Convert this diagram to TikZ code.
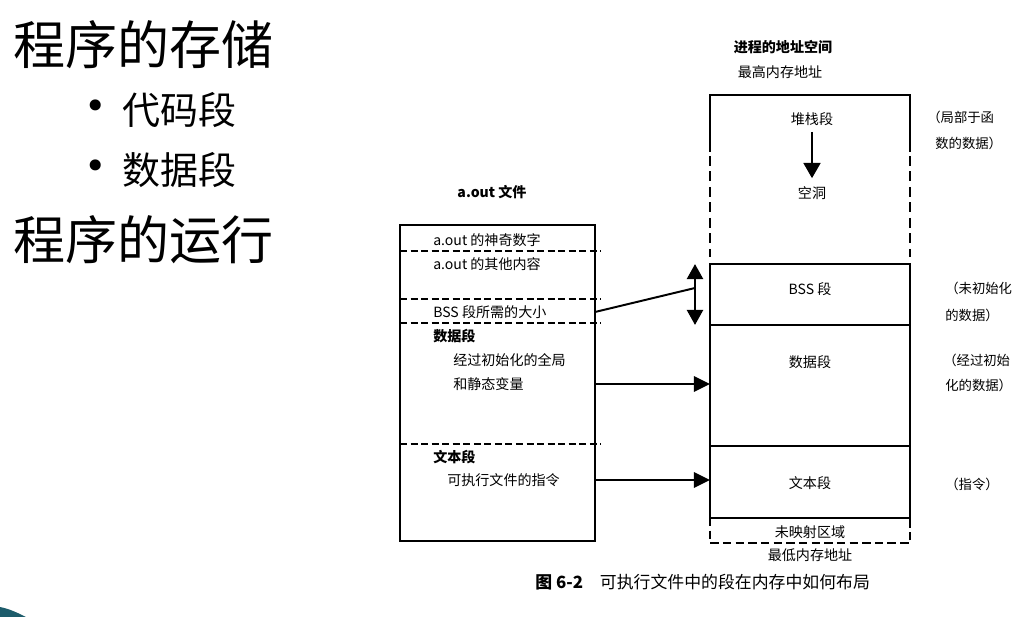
\documentclass[tikz,border=0pt]{standalone}
\usepackage{fontspec}
\setmainfont{Noto Sans CJK SC}
\newfontfamily\bulletfont{DejaVu Sans}
\usepackage{tikz}
\usetikzlibrary{
arrows.meta,
positioning,
calc
}
\definecolor{SlideTeal}{HTML}{1D5C6B}
\tikzset{
slidehead/.style={anchor=west, inner sep=0, font=\fontsize{37pt}{40pt}\selectfont},
slideitem/.style={anchor=west, inner sep=0, font=\fontsize{27pt}{30pt}\selectfont},
slidebullet/.style={inner sep=0, font=\bulletfont\fontsize{27pt}{30pt}\selectfont},
figtext/.style={anchor=west, inner sep=0, font=\fontsize{10pt}{12pt}\selectfont},
figbold/.style={anchor=west, inner sep=0, font=\fontsize{10pt}{12pt}\selectfont\bfseries},
figcentre/.style={inner sep=0, font=\fontsize{10pt}{12pt}\selectfont},
fignote/.style={anchor=west, inner sep=0, font=\fontsize{9.5pt}{11pt}\selectfont},
segbox/.style={draw, line width=1.4pt, minimum width=5cm, inner sep=0, outer sep=0},
memline/.style={line width=1.4pt},
memdash/.style={line width=1.6pt, dash pattern=on 7pt off 4pt},
unmapdash/.style={line width=1.4pt, dash pattern=on 6pt off 3pt},
sepline/.style={line width=0.9pt, dash pattern=on 5pt off 2.5pt},
segarrow/.style={-{Triangle[length=4mm,width=3.8mm]}, line width=1.6pt},
stackarrow/.style={-{Triangle[length=3.8mm,width=4.2mm]}, line width=1.6pt},
bssarrow/.style={{Triangle[length=3.8mm,width=4mm]}-{Triangle[length=3.8mm,width=4mm]}, line width=2pt}
}
\begin{document}
\begin{tikzpicture}[x=0.025cm,y=-0.025cm]
\fill[white] (0,0) rectangle (1027,617);
\useasboundingbox (0,0) rectangle (1027,617);
\fill[SlideTeal] (0,607) .. controls (10,609) and (18,613) .. (26,617) -- (0,617) -- cycle;
\node[slidehead] (store) at (13,45) {程序的存储};
\foreach \n/\y/\t in {code/110/代码段, data/170/数据段} {
  \node[slidebullet] (\n bullet) at (96,\y) {•};
  \node[slideitem] (\n item) at (122,\y) {\t};
}
\node[slidehead] (run) at (13,240) {程序的运行};
\node[figbold, anchor=center] (aouttitle) at (492,192) {a.out 文件};
\node[segbox, minimum width=4.875cm, minimum height=7.9cm] (aout) at (497.5,383) {};
\foreach \y in {251,299,323,444}
  \draw[sepline] (aout.west |- 0,\y) -- ([xshift=1.5mm]aout.east |- 0,\y);
\node[figtext] (magic) at (433,240) {a.out 的神奇数字};
\node[figtext] (other) at (433,264) {a.out 的其他内容};
\node[figtext] (bsssize) at (433,312) {BSS 段所需的大小};
\node[figbold] (datahead) at (433,336) {数据段};
\node[figtext] (dinit) at (453,360) {经过初始化的全局};
\node[figtext] (dvar) at (453,384) {和静态变量};
\node[figbold] (texthead) at (433,457) {文本段};
\node[figtext] (tinstr) at (447,480) {可执行文件的指令};
\node[figbold, anchor=center] (astitle) at (783,47) {进程的地址空间};
\node[figcentre] (hightop) at (780,72) {最高内存地址};
\node[segbox, minimum height=1.525cm] (bss) at (810,294.5) {};
\node[segbox, minimum height=3.025cm, below=0pt of bss] (dataseg) {};
\node[segbox, minimum height=1.8cm, below=0pt of dataseg] (textseg) {};
\coordinate (stacktl) at (710,95);
\coordinate (stacktr) at (910,95);
\draw[memline] ($(stacktl)+(0,57)$) -- (stacktl) -- (stacktr) -- ($(stacktr)+(0,57)$);
\draw[memdash] ($(stacktl)+(0,61)$) -- ($(stacktl)+(0,162)$);
\draw[memdash] ($(stacktr)+(0,61)$) -- ($(stacktr)+(0,162)$);
\draw[unmapdash] (textseg.south west) -- ++(0,25) -| (textseg.south east);
\node[figcentre] (heap) at (812,119) {堆栈段};
\node[figcentre] (hole) at (812,193) {空洞};
\node[figcentre] (bsslbl) at (810,289) {BSS 段};
\node[figcentre] (datalbl) at (810,362) {数据段};
\node[figcentre] (textlbl) at (810,483) {文本段};
\node[figcentre] (unmapped) at (810,532) {未映射区域};
\node[figcentre] (lowaddr) at (810,555) {最低内存地址};
\node[fignote] (heapnote) at (927,117) {（局部于函};
\node[fignote] (heapnote2) at (935,143) {数的数据）};
\node[fignote] (bssnote) at (945,288) {（未初始化};
\node[fignote] (bssnote2) at (945,315) {的数据）};
\node[fignote] (datanote) at (943,360) {（经过初始};
\node[fignote] (datanote2) at (945,385) {化的数据）};
\node[fignote] (textnote) at (945,484) {（指令）};
\draw[stackarrow] ([yshift=-1.5mm]heap.south) -- ([yshift=2mm]hole.north);
\coordinate (bssjoin) at (695,288);
\draw[memline] (aout.east |- bsssize) -- (bssjoin);
\draw[bssarrow] (bssjoin |- bss.north) -- (bssjoin |- bss.south);
\draw[segarrow] (aout.east |- dvar) -- (dataseg.west |- dvar);
\draw[segarrow] (aout.east |- tinstr) -- (textseg.west |- tinstr);
\node[anchor=west, inner sep=0, font=\fontsize{12pt}{14pt}\selectfont] (caption) at (535,582) {\textbf{图 6-2}\quad 可执行文件中的段在内存中如何布局};
\end{tikzpicture}
\end{document}
